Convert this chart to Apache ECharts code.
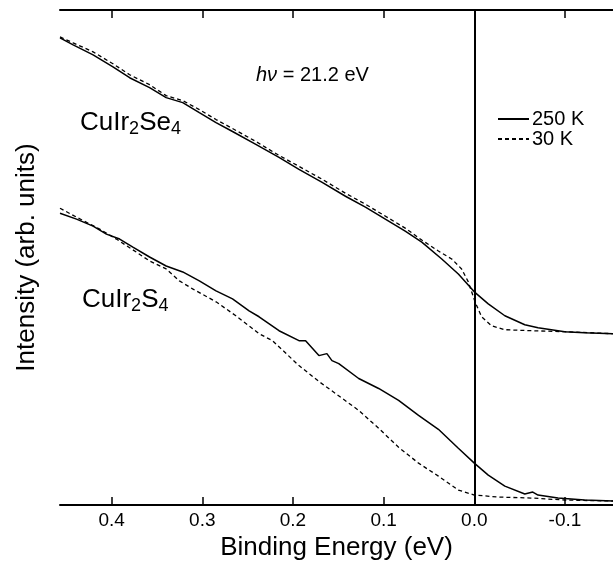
<!DOCTYPE html>
<html><head><meta charset="utf-8">
<script src="https://cdn.jsdelivr.net/npm/echarts@6/dist/echarts.min.js"></script>
<style>html,body{margin:0;padding:0;background:#fff}#c{width:613px;height:566px}</style>
</head><body><div id="c"></div><script>
// Binding energy (eV) and intensity (arb. units)
var seE250 = [0.457,0.4425,0.4205,0.3986,0.3802,0.3582,0.3399,0.3216,0.3033,0.2849,0.2667,0.241,0.2154,0.1934,0.1678,0.1421,0.1201,0.0945,0.0762,0.0579,0.0359,0.0176,0,-0.0154,-0.0337,-0.0557,-0.0703,-0.0997,-0.1216,-0.153];
var seI250 = [469,462,452,440,429,419,409,404,394,384,375,362,349,337,324,310,299,285,275,264,247,232,214,202,190,181,178,174,173,172];
var seE30 = [0.457,0.4425,0.4205,0.3986,0.3802,0.3582,0.3399,0.3216,0.3033,0.2849,0.2667,0.241,0.2154,0.1934,0.1678,0.1421,0.1201,0.0945,0.0762,0.0579,0.0396,0.0249,0.014,0.0066,-0.0008,-0.008,-0.019,-0.0337,-0.0626,-0.0997,-0.153];
var seI30 = [470,464,455,443,432,422,411,406,397,387,378,365,351,340,327,313,302,288,278,266,255,247,237,224,204,189,180,176,175,174,172];
var sE250 = [0.457,0.4388,0.4205,0.4058,0.3912,0.3766,0.3582,0.3399,0.3216,0.3033,0.2849,0.2667,0.2484,0.2374,0.2154,0.1934,0.1861,0.1714,0.1626,0.157,0.1495,0.1275,0.1055,0.0835,0.0615,0.0396,0.0176,0,-0.0154,-0.0337,-0.0557,-0.0645,-0.0703,-0.0923,-0.1216,-0.153];
var sI250 = [293,287,280,272,267,259,249,240,234,225,215,207,195,189,175,165,165,150,152,145,142,127,117,105,90,76,57,42,30,19,11,13,10,7,5,4];
var sE30 = [0.457,0.4388,0.4132,0.3948,0.3729,0.3582,0.3399,0.3253,0.3107,0.2849,0.263,0.2374,0.2227,0.1934,0.1714,0.1531,0.1275,0.1055,0.0835,0.0615,0.0396,0.0176,0,-0.0264,-0.0626,-0.0997,-0.153];
var sI30 = [298,289,277,267,254,245,237,225,217,204,190,172,165,140,124,112,95,77,58,42,29,15,10,8,7,5,4];
var xTicks = [0.4,0.3,0.2,0.1,0.0,-0.1];
var xMin = -0.153, xMax = 0.457;

function pairs(a,b){return a.map(function(v,i){return [v,b[i]];});}
var FONT = '"Liberation Sans", Arial, Helvetica, sans-serif';
var chart = echarts.init(document.getElementById('c'), null, {renderer:'canvas'});
var solid = {color:'#000', width:1.5, type:'solid'};
var dashed = {color:'#000', width:1.3, type:[4,3]};
chart.setOption({
  animation:false,
  backgroundColor:'#fff',
  grid:{left:60, right:-2, top:10, bottom:59},
  legend:{
    data:['250 K','30 K'], orient:'vertical', left:492, top:104,
    itemWidth:31, itemHeight:2, itemGap:0,
    itemStyle:{opacity:0},
    textStyle:{fontFamily:FONT, fontSize:20, lineHeight:20, color:'#000', padding:[0,0,0,-2]},
    selectedMode:false
  },
  xAxis:[{
    type:'value', min:xMin, max:xMax, inverse:true,
    name:'Binding Energy (eV)', nameLocation:'middle', nameGap:30,
    nameTextStyle:{fontFamily:FONT, fontSize:26, color:'#000'},
    axisLine:{show:true, lineStyle:{color:'#000', width:2}},
    axisTick:{show:true, inside:true, length:8, customValues:xTicks, lineStyle:{color:'#000', width:1.5}},
    axisLabel:{show:true, customValues:xTicks, margin:6, fontFamily:FONT, fontSize:19, color:'#000',
      formatter:function(v){return v.toFixed(1);}},
    splitLine:{show:false}
  },{
    type:'value', position:'top', min:xMin, max:xMax, inverse:true,
    axisLine:{show:true, lineStyle:{color:'#000', width:2}},
    axisTick:{show:true, inside:true, length:8, customValues:xTicks, lineStyle:{color:'#000', width:1.5}},
    axisLabel:{show:false}, splitLine:{show:false}
  }],
  yAxis:{
    type:'value', min:0, max:497,
    name:'Intensity (arb. units)', nameLocation:'middle', nameGap:20,
    nameTextStyle:{fontFamily:FONT, fontSize:26, color:'#000'},
    axisLine:{show:true, lineStyle:{color:'#000', width:2}},
    axisTick:{show:false}, axisLabel:{show:false}, splitLine:{show:false}
  },
  series:[
    {name:'250 K', type:'line', symbol:'none', data:pairs(seE250,seI250), lineStyle:solid, itemStyle:{color:'#000'},
     markLine:{silent:true, symbol:'none', label:{show:false}, lineStyle:{color:'#000', width:1.5, type:'solid'}, data:[{xAxis:0}]}},
    {name:'30 K', type:'line', symbol:'none', data:pairs(seE30,seI30), lineStyle:dashed, itemStyle:{color:'#000'}},
    {name:'250 K', type:'line', symbol:'none', data:pairs(sE250,sI250), lineStyle:solid, itemStyle:{color:'#000'}},
    {name:'30 K', type:'line', symbol:'none', data:pairs(sE30,sI30), lineStyle:dashed, itemStyle:{color:'#000'}}
  ],
  graphic:[
    {type:'text', x:256, y:75, style:{text:'{i|hν} = 21.2 eV', verticalAlign:'middle', fill:'#000',
      font:'20px '+FONT, rich:{i:{fontStyle:'italic', fontSize:20, fontFamily:FONT, fill:'#000'}}}},
    {type:'text', x:80, y:123, style:{text:'{a|CuIr}{s|2}{a|Se}{s|4}', verticalAlign:'middle', fill:'#000',
      rich:{a:{fontSize:26, fontFamily:FONT, lineHeight:30, verticalAlign:'middle'},
            s:{fontSize:18, fontFamily:FONT, lineHeight:10, verticalAlign:'bottom'}}}},
    {type:'text', x:82, y:300, style:{text:'{a|CuIr}{s|2}{a|S}{s|4}', verticalAlign:'middle', fill:'#000',
      rich:{a:{fontSize:26, fontFamily:FONT, lineHeight:30, verticalAlign:'middle'},
            s:{fontSize:18, fontFamily:FONT, lineHeight:10, verticalAlign:'bottom'}}}}
  ]
});
</script></body></html>
